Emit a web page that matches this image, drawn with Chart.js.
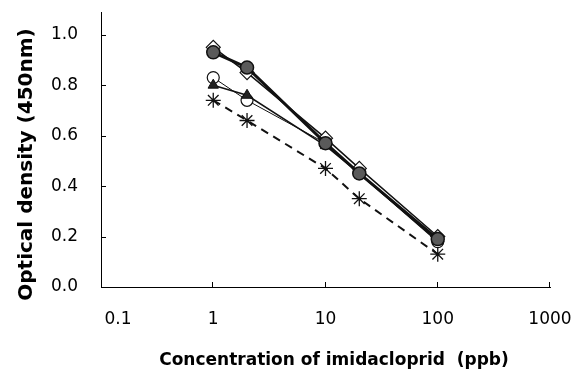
<!DOCTYPE html>
<html><head><meta charset="utf-8">
<script src="https://cdn.jsdelivr.net/npm/chart.js@4/dist/chart.umd.min.js"></script>
<style>html,body{margin:0;padding:0;background:#fff}</style>
</head><body>
<canvas id="c" width="582" height="379"></canvas>
<script>
const concentrations = [1, 2, 10, 20, 100];
const seriesFilledCircle = [0.93, 0.87, 0.57, 0.45, 0.19];
const seriesDiamond = [0.95, 0.85, 0.59, 0.47, 0.20];
const seriesOpenCircle = [0.83, 0.74, 0.57, 0.45, 0.18];
const seriesTriangle = [0.80, 0.76, 0.56, 0.45, 0.18];
const seriesAsterisk = [0.74, 0.66, 0.47, 0.35, 0.13];
const xTickValues = [0.1, 1, 10, 100, 1000];
const yTickValues = [0, 0.2, 0.4, 0.6, 0.8, 1.0];
const xTitle = 'Concentration of imidacloprid  (ppb)';
const yTitle = 'Optical density (450nm)';

const pts = vals => concentrations.map((x, i) => ({x: x, y: vals[i]}));
const FONT = "'DejaVu Sans', 'Liberation Sans', Arial, sans-serif";

const inwardTicks = {
  id: 'inwardTicks',
  afterDraw(chart) {
    const ctx = chart.ctx, xs = chart.scales.x, ys = chart.scales.y;
    const a = chart.chartArea;
    ctx.save();
    ctx.strokeStyle = '#000';
    ctx.lineWidth = 1;
    ctx.beginPath();
    xTickValues.slice(1).forEach(v => {
      const px = Math.round(xs.getPixelForValue(v)) - 0.5;
      ctx.moveTo(px, a.bottom); ctx.lineTo(px, a.bottom - 5);
    });
    yTickValues.slice(1).forEach(v => {
      const py = Math.round(ys.getPixelForValue(v)) + 0.5;
      ctx.moveTo(a.left, py); ctx.lineTo(a.left + 5, py);
    });
    ctx.stroke();
    ctx.restore();
  }
};

new Chart(document.getElementById('c'), {
  type: 'scatter',
  data: {
    datasets: [
      { label: 'A', data: pts(seriesFilledCircle), showLine: true, order: 0,
        borderColor: '#111', borderWidth: 3, pointStyle: 'circle', pointRadius: 6.5,
        pointBackgroundColor: '#5a5a5a', pointBorderColor: '#111', pointBorderWidth: 1.5 },
      { label: 'B', data: pts(seriesDiamond), showLine: true, order: 1,
        borderColor: '#111', borderWidth: 1.5, pointStyle: 'rectRot', pointRadius: 7,
        pointBackgroundColor: '#fff', pointBorderColor: '#111', pointBorderWidth: 1.2 },
      { label: 'C', data: pts(seriesTriangle), showLine: true, order: 2,
        borderColor: '#111', borderWidth: 1.5, pointStyle: 'triangle', pointRadius: 6,
        pointBackgroundColor: '#222', pointBorderColor: '#111', pointBorderWidth: 1 },
      { label: 'D', data: pts(seriesOpenCircle), showLine: true, order: 3,
        borderColor: '#111', borderWidth: 1, pointStyle: 'circle', pointRadius: 6,
        pointBackgroundColor: '#fff', pointBorderColor: '#111', pointBorderWidth: 1.2 },
      { label: 'E', data: pts(seriesAsterisk), showLine: true, order: 4,
        borderColor: '#111', borderWidth: 2, borderDash: [8, 6], pointStyle: 'star', pointRadius: 7.5,
        pointBackgroundColor: '#fff', pointBorderColor: '#111', pointBorderWidth: 1.3 }
    ]
  },
  options: {
    responsive: false,
    animation: false,
    devicePixelRatio: 1,
    layout: { padding: { left: 0, right: 32, top: 12, bottom: 0 } },
    plugins: { legend: { display: false }, tooltip: { enabled: false } },
    scales: {
      x: {
        type: 'logarithmic', min: 0.1, max: 1000,
        afterBuildTicks: s => { s.ticks = xTickValues.map(v => ({value: v})); },
        afterFit: s => { s.height = 92; s.paddingLeft = 0; s.paddingRight = 0; },
        grid: { display: false, drawTicks: false },
        border: { display: true, color: '#000', width: 1 },
        ticks: { color: '#000', padding: 22, maxRotation: 0, autoSkip: false,
          font: { family: FONT, size: 17 },
          callback: v => v === 0.1 ? '\u2002\u2002\u2002\u20020.1' : String(v) },
        title: { display: true, text: '\u2002\u2002' + xTitle, color: '#000', padding: { top: 0, bottom: 8 },
          font: { family: FONT, size: 17, weight: 'bold' } }
      },
      y: {
        type: 'linear', min: 0, max: 1.09,
        afterBuildTicks: s => { s.ticks = yTickValues.map(v => ({value: v})); },
        afterFit: s => { s.width = 101; s.paddingTop = 0; s.paddingBottom = 0; },
        grid: { display: false, drawTicks: false },
        border: { display: true, color: '#000', width: 1 },
        ticks: { color: '#000', padding: 23, font: { family: FONT, size: 17 },
          callback: v => Number(v).toFixed(1) },
        title: { display: true, text: yTitle + '\u2002\u2002\u2002', color: '#000', padding: { top: 15, bottom: 0 },
          font: { family: FONT, size: 20, weight: 'bold' } }
      }
    }
  },
  plugins: [inwardTicks]
});
</script>
</body></html>
